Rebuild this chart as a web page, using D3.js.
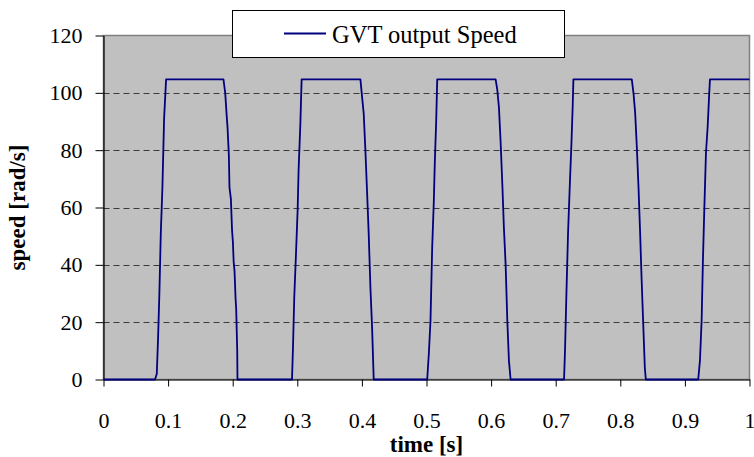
<!DOCTYPE html>
<html>
<head>
<meta charset="utf-8">
<script src="https://cdn.jsdelivr.net/npm/d3@7"></script>
<style>
  html, body { margin: 0; padding: 0; background: #ffffff; }
  svg { display: block; }
  svg text { font-family: "Liberation Serif", "Times New Roman", serif; fill: #000; }
</style>
</head>
<body>
<svg id="chart" width="754" height="457"></svg>
<script>
// ---- Data ----
const seriesName = "GVT output Speed";
const timeValues = [
  0, 0.0798, 0.0825, 0.0845, 0.0865, 0.0887, 0.0912, 0.0938, 0.0969,
  0.1857, 0.1884, 0.1910, 0.1920, 0.1941, 0.1950, 0.1972, 0.1990, 0.2003, 0.2015, 0.2028, 0.2045, 0.2054, 0.2070, 0.2074,
  0.2918, 0.2933, 0.2953, 0.2980, 0.3005, 0.3020, 0.3047, 0.3067,
  0.3977, 0.4003, 0.4028, 0.4054, 0.4081, 0.4105, 0.4132, 0.4158, 0.4183,
  0.5011, 0.5036, 0.5062, 0.5088, 0.5113, 0.5129, 0.5150, 0.5166,
  0.6070, 0.6096, 0.6121, 0.6147, 0.6174, 0.6198, 0.6225, 0.6251, 0.6276, 0.6302,
  0.7129, 0.7144, 0.7166, 0.7191, 0.7217, 0.7243, 0.7264, 0.7274,
  0.8178, 0.8205, 0.8230, 0.8256, 0.8282, 0.8307, 0.8329, 0.8353, 0.8380, 0.8395,
  0.9206, 0.9233, 0.9259, 0.9279, 0.9300, 0.9326, 0.9352, 0.9377, 0.9388,
  1.0
];
const speedValues = [
  0, 0, 2, 14.6, 30, 51, 67, 91, 104.7,
  104.7, 100, 91, 88, 78, 67, 63, 52, 48, 41, 38, 28, 24.7, 10, 0,
  0, 11, 28.7, 44, 59, 73, 89, 104.7,
  104.7, 98.5, 92.8, 80, 65, 51, 32, 18, 0,
  0, 9, 20.6, 46, 62, 76, 90, 104.7,
  104.7, 101, 95, 83, 68, 53, 40, 20.6, 6.6, 0,
  0, 10, 30, 51, 67, 82, 96, 104.7,
  104.7, 99.7, 93, 81, 67, 51, 35.6, 20.6, 4, 0,
  0, 6.6, 20.6, 41.5, 59, 79, 88, 100, 104.7,
  104.7
];
const xTicks = [0, 0.1, 0.2, 0.3, 0.4, 0.5, 0.6, 0.7, 0.8, 0.9, 1];
const yTicks = [0, 20, 40, 60, 80, 100, 120];
const gridValues = [20, 40, 60, 80, 100];
const xTitle = "time [s]";
const yTitle = "speed [rad/s]";

// ---- Layout ----
const svg = d3.select("#chart");
const plot = { left: 103.5, right: 749.5, top: 35.5, bottom: 379.5 };

const x = d3.scaleLinear().domain([0, 1]).range([plot.left, plot.right]);
const y = d3.scaleLinear().domain([0, 120]).range([plot.bottom, plot.top]);

// Plot background with grey border
svg.append("rect")
  .attr("x", plot.left).attr("y", plot.top)
  .attr("width", plot.right - plot.left).attr("height", plot.bottom - plot.top)
  .attr("fill", "#c0c0c0").attr("stroke", "#808080").attr("stroke-width", 1.5);

// Gridlines
svg.append("g").selectAll("line").data(gridValues).join("line")
  .attr("x1", plot.left).attr("x2", plot.right)
  .attr("y1", d => Math.round(y(d)) + 0.5).attr("y2", d => Math.round(y(d)) + 0.5)
  .attr("stroke", "#3a3a3a").attr("stroke-width", 1)
  .attr("stroke-dasharray", "6,4");

// Axes
const xAxis = d3.axisBottom(x).tickValues(xTicks)
  .tickFormat(d => d3.format("~g")(d)).tickSize(7).tickPadding(26).tickSizeOuter(0);
const gx = svg.append("g").attr("transform", `translate(0,${plot.bottom})`).call(xAxis);
gx.attr("font-family", null);
gx.select(".domain").attr("stroke", "#000").attr("stroke-width", 1.2);
gx.selectAll(".tick line").attr("stroke", "#000");
gx.selectAll(".tick text")
  .style("font-family", '"Liberation Serif", "Times New Roman", serif')
  .style("font-size", "22px");

const yAxis = d3.axisLeft(y).tickValues(yTicks).tickSize(8).tickPadding(13).tickSizeOuter(0);
const gy = svg.append("g").attr("transform", `translate(${plot.left},0)`).call(yAxis);
gy.attr("font-family", null);
gy.select(".domain").attr("stroke", "#000").attr("stroke-width", 1.2);
gy.selectAll(".tick line").attr("stroke", "#000");
gy.selectAll(".tick text")
  .style("font-family", '"Liberation Serif", "Times New Roman", serif')
  .style("font-size", "22px");

// Series line
const points = timeValues.map((t, i) => [t, speedValues[i]]);
svg.append("path")
  .datum(points)
  .attr("fill", "none")
  .attr("stroke", "#000080")
  .attr("stroke-width", 1.8)
  .attr("stroke-linejoin", "round")
  .attr("d", d3.line().x(d => x(d[0])).y(d => y(d[1])));

// Axis titles
svg.append("text")
  .attr("x", (plot.left + plot.right) / 2).attr("y", 452)
  .attr("text-anchor", "middle")
  .style("font-size", "23px").style("font-weight", "bold")
  .text(xTitle);
svg.append("text")
  .attr("transform", `translate(25,${(plot.top + plot.bottom) / 2}) rotate(-90)`)
  .attr("text-anchor", "middle")
  .style("font-size", "23px").style("font-weight", "bold")
  .text(yTitle);

// Legend
const lg = svg.append("g");
lg.append("rect").attr("x", 232.5).attr("y", 10.5).attr("width", 332).attr("height", 47)
  .attr("fill", "#fff").attr("stroke", "#000").attr("stroke-width", 1);
lg.append("line").attr("x1", 284).attr("x2", 326).attr("y1", 33.5).attr("y2", 33.5)
  .attr("stroke", "#000080").attr("stroke-width", 1.8);
lg.append("text").attr("x", 332).attr("y", 43).style("font-size", "24.5px").text(seriesName);
</script>
</body>
</html>
